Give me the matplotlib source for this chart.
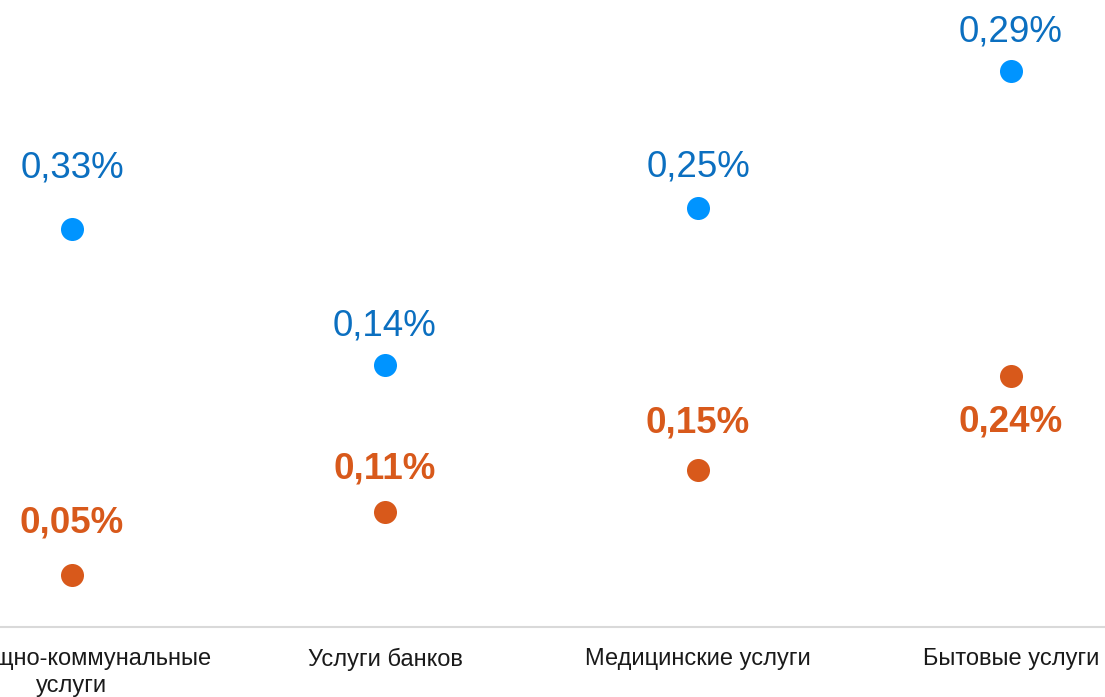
import matplotlib
matplotlib.use("Agg")
import matplotlib.pyplot as plt

categories = ["Жилищно-коммунальные\nуслуги", "Услуги банков", "Медицинские услуги", "Бытовые услуги"]
blue_values = [0.380, 0.250, 0.400, 0.531]
blue_labels = ["0,33%", "0,14%", "0,25%", "0,29%"]
orange_values = [0.05, 0.11, 0.15, 0.24]
orange_labels = ["0,05%", "0,11%", "0,15%", "0,24%"]

blue_offsets = [44, 28.5, 29.5, 28]      # label offsets in points
orange_offsets = [37, 30.5, 33.5, -33.5]

plt.rcParams['font.family'] = ['Liberation Sans', 'DejaVu Sans']

W, H = 1105, 697
fig = plt.figure(figsize=(W / 100, H / 100), dpi=100)
left_px = 72 - 156.5
width_px = 313 * 4
ax = fig.add_axes([left_px / W, (H - 627) / H, width_px / W, 627 / H])
ax.set_xlim(-0.5, 3.5)
ax.set_ylim(0, 627 / 1047)

x = list(range(len(categories)))
blue_dot = '#0094FF'
blue_txt = '#0B6FC0'
orange = '#D8591B'

ax.scatter(x, blue_values, s=275, color=blue_dot, zorder=3, linewidths=0)
ax.scatter(x, orange_values, s=275, color=orange, zorder=3, linewidths=0)

for xi, v, lab, off in zip(x, blue_values, blue_labels, blue_offsets):
    ax.annotate(lab, (xi, v), xytext=(0, off), textcoords='offset points',
                ha='center', va='center', fontsize=26.5, color=blue_txt,
                annotation_clip=False)
for xi, v, lab, off in zip(x, orange_values, orange_labels, orange_offsets):
    ax.annotate(lab, (xi, v), xytext=(0, off), textcoords='offset points',
                ha='center', va='center', fontsize=26.5, color=orange,
                fontweight='bold', annotation_clip=False)

for s in ['top', 'right', 'left']:
    ax.spines[s].set_visible(False)
ax.spines['bottom'].set_color('#D9D9D9')
ax.spines['bottom'].set_linewidth(1.5)
ax.set_yticks([])
ax.set_xticks(x)
ax.set_xticklabels(categories, fontsize=17, color='#1A1A1A', linespacing=1.3)
ax.tick_params(axis='x', length=0, pad=15)

fig.savefig("out.png", dpi=100)
